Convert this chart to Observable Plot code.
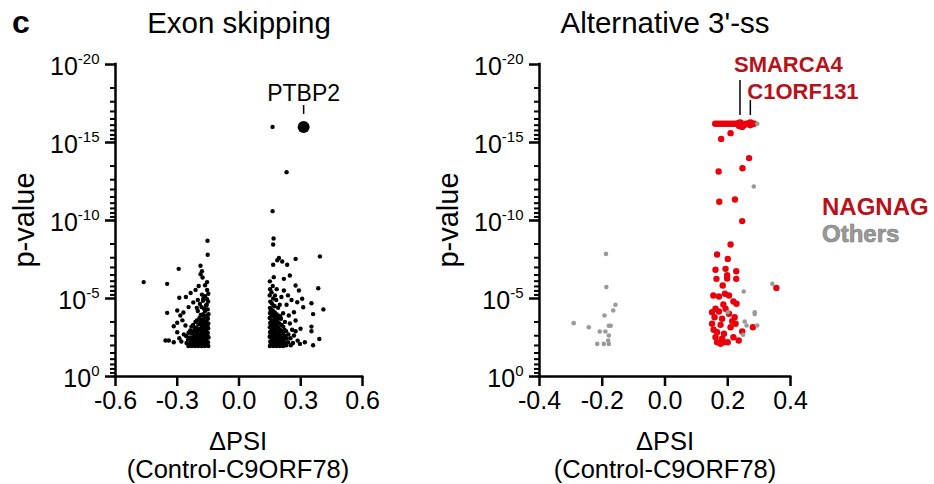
<!DOCTYPE html>
<html><head><meta charset="utf-8">
<script src="https://cdn.jsdelivr.net/npm/d3@7"></script>
<script src="https://cdn.jsdelivr.net/npm/@observablehq/plot@0.6"></script>
<style>
body{margin:0;background:#fff;}
#wrap{position:relative;width:934px;height:484px;}
#wrap svg{position:absolute;top:0;left:0;overflow:visible;}
</style></head><body><div id="wrap"></div>
<script>
// ---------- data ----------
const yMajor = [0, 5, 10, 15, 20];
const yExp = ["0", "-5", "-10", "-15", "-20"];
const esTicks = [-0.6, -0.3, 0, 0.3, 0.6];
const a3Ticks = [-0.4, -0.2, 0, 0.2, 0.4];

// Exon skipping: [dPSI, -log10 p]
const esPts = [
[-0.463,6.05],[-0.349,5.94],[-0.293,6.90],[-0.153,8.70],[-0.152,7.80],[-0.187,7.10],[-0.180,6.75],[-0.187,6.55],[-0.177,6.35],[-0.155,6.05],[-0.165,5.85],[-0.196,5.80],[-0.155,5.55],[-0.211,5.55],[-0.235,5.35],[-0.258,5.10],[-0.290,5.05],[-0.180,5.25],[-0.165,5.15],[-0.155,4.95],[-0.175,4.85],[-0.200,4.90],[-0.222,4.75],[-0.190,4.65],[-0.160,4.55],[-0.245,4.45],[-0.205,4.40],[-0.170,4.35],[-0.349,4.08],[-0.300,4.23],[-0.285,3.91],[-0.270,4.10],[-0.317,3.22],[-0.300,2.84],[-0.357,2.31],[-0.341,2.31],[-0.317,2.20],[-0.280,2.24],[-0.260,3.27],[-0.268,2.70],[-0.290,2.45],[-0.275,3.60],[-0.300,3.45],
[-0.149,1.95],[-0.151,2.20],[-0.148,2.50],[-0.152,2.80],[-0.150,3.10],[-0.149,3.40],[-0.151,3.70],[-0.148,4.00],[-0.152,4.30],[-0.150,4.80],[-0.149,5.30],
[-0.158,2.05],[-0.160,2.35],[-0.157,2.65],[-0.159,2.95],[-0.156,3.25],[-0.160,3.55],[-0.158,3.90],[-0.157,4.60],
[-0.166,1.95],[-0.168,2.25],[-0.165,2.55],[-0.167,2.85],[-0.164,3.15],[-0.168,3.50],[-0.166,3.80],[-0.165,4.20],
[-0.174,2.10],[-0.176,2.40],[-0.173,2.70],[-0.175,3.00],[-0.172,3.30],[-0.176,3.65],[-0.174,4.00],[-0.173,5.00],
[-0.182,1.95],[-0.184,2.25],[-0.181,2.55],[-0.183,2.90],[-0.180,3.20],[-0.184,3.55],[-0.182,4.45],
[-0.190,2.10],[-0.192,2.40],[-0.189,2.70],[-0.191,3.05],[-0.188,3.40],[-0.192,3.75],
[-0.198,1.95],[-0.200,2.25],[-0.197,2.60],[-0.199,2.95],[-0.196,3.35],[-0.200,4.20],
[-0.206,2.10],[-0.208,2.45],[-0.205,2.80],[-0.207,3.15],[-0.204,3.60],
[-0.214,1.95],[-0.216,2.30],[-0.213,2.65],[-0.215,3.05],[-0.212,3.50],
[-0.222,2.15],[-0.224,2.50],[-0.221,2.90],[-0.223,3.30],
[-0.230,1.95],[-0.232,2.30],[-0.229,2.75],[-0.231,3.20],
[-0.238,2.10],[-0.240,2.50],[-0.237,2.95],
[-0.246,1.95],[-0.248,2.35],[-0.245,2.80],
[-0.255,2.15],[-0.257,2.60],
[-0.154,2.05],[-0.162,2.10],[-0.170,2.00],[-0.178,2.05],[-0.186,2.00],[-0.194,2.05],[-0.154,2.65],[-0.162,2.80],[-0.170,2.60],[-0.178,2.85],[-0.186,2.70],[-0.154,3.25],[-0.162,3.40],[-0.170,3.20],[-0.178,3.45],[-0.154,3.85],[-0.170,3.90],[-0.186,3.95],[-0.202,2.05],[-0.210,2.00],[-0.218,2.05],
[0.163,16.0],[0.231,13.1],[0.163,10.6],[0.168,8.85],[0.166,8.46],[0.194,7.60],[0.186,7.45],[0.166,7.16],[0.210,7.37],[0.234,7.16],[0.275,7.54],[0.393,7.70],[0.385,5.66],[0.410,4.30],[0.352,4.70],[0.360,4.00],[0.352,3.20],[0.352,2.90],[0.390,2.40],[0.360,2.00],[0.169,6.37],[0.218,6.26],[0.247,6.47],[0.275,5.83],[0.218,5.51],[0.291,5.51],[0.307,4.98],[0.283,4.76],[0.312,4.44],[0.267,4.12],[0.275,3.59],[0.299,3.06],[0.296,2.09],[0.267,2.63],[0.247,3.40],[0.242,3.91],[0.255,4.90],[0.238,5.20],[0.285,2.30],[0.275,2.90],[0.258,3.00],[0.320,2.20],
[0.150,1.95],[0.152,2.25],[0.149,2.55],[0.151,2.85],[0.150,3.15],[0.152,3.45],[0.149,3.75],[0.151,4.05],[0.150,4.40],[0.152,4.80],[0.149,5.20],[0.151,5.60],[0.150,6.10],
[0.158,2.10],[0.160,2.40],[0.157,2.70],[0.159,3.00],[0.156,3.30],[0.160,3.60],[0.158,3.95],[0.157,4.30],[0.159,4.70],[0.158,5.40],
[0.166,1.95],[0.168,2.25],[0.165,2.55],[0.167,2.85],[0.164,3.20],[0.168,3.50],[0.166,3.85],[0.165,4.20],[0.167,4.55],[0.166,5.00],[0.164,5.80],
[0.174,2.10],[0.176,2.40],[0.173,2.70],[0.175,3.05],[0.172,3.35],[0.176,3.70],[0.174,4.10],[0.173,4.50],[0.175,5.20],
[0.182,1.95],[0.184,2.25],[0.181,2.60],[0.183,2.90],[0.180,3.25],[0.184,3.60],[0.182,4.00],[0.181,4.90],[0.183,5.60],
[0.190,2.10],[0.192,2.45],[0.189,2.80],[0.191,3.15],[0.188,3.50],[0.192,3.90],[0.190,4.40],
[0.198,1.95],[0.200,2.30],[0.197,2.65],[0.199,3.00],[0.196,3.40],[0.200,3.85],[0.198,4.60],
[0.206,2.15],[0.208,2.50],[0.205,2.90],[0.207,3.30],[0.204,3.70],[0.206,5.10],
[0.214,1.95],[0.216,2.35],[0.213,2.75],[0.215,3.20],[0.214,4.05],
[0.222,2.20],[0.224,2.60],[0.221,3.00],[0.223,3.50],
[0.230,2.00],[0.232,2.45],[0.229,2.90],[0.231,4.60],
[0.238,2.20],[0.240,2.70],[0.252,2.00],[0.250,2.45],[0.262,2.15],
[0.154,2.05],[0.162,2.10],[0.170,2.00],[0.178,2.05],[0.186,2.00],[0.194,2.05],[0.154,2.70],[0.162,2.65],[0.170,2.75],[0.178,2.60],[0.154,3.35],[0.162,3.20],[0.170,3.45],[0.178,3.30],[0.154,4.20],[0.170,3.90],[0.186,3.75],[0.202,2.00],[0.210,2.05],[0.218,2.00]
];
const esHighlightName = ["PTBP2"];
const esHighlightX = [0.314];
const esHighlightY = [16.0];

// Alternative 3'-ss: NAGNAG (red) and Others (gray)
const nagPts = [
[0.160,16.2],[0.168,16.2],[0.176,16.2],[0.184,16.2],[0.192,16.2],[0.200,16.2],[0.208,16.2],[0.216,16.2],[0.224,16.2],[0.230,16.2],[0.236,16.05],[0.246,16.0],[0.252,16.1],[0.258,16.2],[0.266,16.2],[0.284,16.2],
[0.179,15.23],[0.209,15.6],[0.268,14.0],[0.247,13.35],[0.171,13.14],[0.173,11.2],[0.223,11.35],[0.246,9.96],[0.209,8.46],[0.166,7.82],[0.200,7.54],[0.161,6.84],[0.193,6.9],[0.227,6.75],[0.164,6.26],[0.198,6.5],[0.198,6.28],[0.227,6.26],[0.184,5.83],[0.355,5.68],[0.154,5.19],[0.172,5.13],[0.191,5.3],[0.204,5.19],[0.218,4.81],[0.228,4.66],[0.186,4.62],[0.161,4.34],[0.150,4.12],[0.172,4.17],[0.193,4.34],[0.204,4.02],[0.158,3.8],[0.182,3.7],[0.222,3.8],[0.150,3.38],[0.177,3.31],[0.209,3.16],[0.225,3.38],[0.280,3.16],[0.246,2.88],[0.166,2.84],[0.188,2.74],[0.161,2.52],[0.182,2.42],[0.218,2.52],[0.235,2.31],[0.166,2.2],[0.188,2.2],[0.200,2.2],[0.177,2.1],[0.155,3.0],[0.214,3.55]
];
const othPts = [
[0.294,16.2],[0.283,12.18],[0.251,5.45],[0.342,5.94],[0.286,4.12],[0.286,4.0],[0.254,3.53],[0.260,3.27],[0.294,3.27],[0.249,2.67],[0.200,4.12],
[-0.188,7.86],[-0.187,5.73],[-0.158,4.6],[-0.165,4.23],[-0.193,3.91],[-0.291,3.42],[-0.243,3.16],[-0.208,2.88],[-0.190,2.88],[-0.179,3.25],[-0.173,3.25],[-0.179,2.63],[-0.181,2.31],[-0.216,2.09],[-0.195,2.09],[-0.179,2.09]
];
const a3HighlightName = ["SMARCA4", "C1ORF131"];
const a3HighlightX = [0.239, 0.272];
const a3HighlightY = [16.2, 16.2];

// ---------- helpers ----------
const FONT = '"Liberation Sans", Arial, Helvetica, sans-serif';
const minorTicks = [];
for (const top of [5, 10, 15, 20]) for (let k = 2; k <= 9; k++) minorTicks.push(top - 5 * Math.log10(k));

const W = 934, H = 484, MT = 64, MB = 108;

function panel(xDomain, xTicks, marginLeft, marginRight, marks) {
  const x0 = xDomain[0];
  const kx = (W - marginLeft - marginRight) / (xDomain[1] - xDomain[0]); // px per x unit
  const ky = (H - MT - MB) / 20;                                          // px per y unit
  return Plot.plot({
    width: W, height: H,
    marginLeft, marginRight, marginTop: MT, marginBottom: MB,
    x: {domain: xDomain},
    y: {domain: [0, 20]},
    style: {fontFamily: FONT, fontSize: "25px", color: "#000", background: "transparent", overflow: "visible"},
    marks: [
      // tick marks drawn as short rules outside the frame
      Plot.ruleY(minorTicks, {y: d => d, x1: x0 - 5 / kx, x2: x0, stroke: "#000", strokeWidth: 2}),
      Plot.ruleY(yMajor, {y: d => d, x1: x0 - 10 / kx, x2: x0, stroke: "#000", strokeWidth: 2.5}),
      Plot.ruleX(xTicks, {x: d => d, y1: 0, y2: -10 / ky, stroke: "#000", strokeWidth: 2.5}),
      Plot.axisY(yMajor, {tickSize: 0, tickPadding: 16, fontSize: 25, dy: 2.5,
        tickFormat: d => "10^" + yExp[yMajor.indexOf(d)], label: null}),
      Plot.axisX(xTicks, {tickSize: 0, tickPadding: 15, fontSize: 25,
        tickFormat: d => d.toFixed(1), label: null}),
      Plot.ruleX([x0], {y1: 0, y2: 20, strokeWidth: 2.5, strokeLinecap: "square"}),
      Plot.ruleY([0], {x1: x0, x2: xDomain[1], strokeWidth: 2.5, strokeLinecap: "square"}),
      ...marks
    ]
  });
}

function superscripts(svg) {
  const ns = "http://www.w3.org/2000/svg";
  svg.querySelectorAll('g[aria-label="y-axis tick label"] text').forEach(t => {
    const s = t.textContent;
    if (!s.includes("^")) return;
    const [b, e] = s.split("^");
    t.textContent = "";
    const t1 = document.createElementNS(ns, "tspan"); t1.textContent = b;
    const t2 = document.createElementNS(ns, "tspan"); t2.textContent = e;
    t2.setAttribute("dy", "-11"); t2.setAttribute("font-size", "15");
    t.append(t1, t2);
  });
}

const RED = "#e8000b", DARKRED = "#b5121b", GRAY = "#9a9a9a";

// ---------- left panel ----------
const es = panel([-0.6, 0.6], esTicks, 115, W - 362, [
  Plot.dot(esPts, {x: d => d[0], y: d => d[1], r: 2.2, fill: "#000"}),
  Plot.dot(esHighlightX, {x: d => d, y: (d, i) => esHighlightY[i], r: 6, fill: "#000"}),
  Plot.ruleX(esHighlightX, {x: d => d, y1: (d, i) => esHighlightY[i] + 0.8, y2: (d, i) => esHighlightY[i] + 1.37, strokeWidth: 1.5}),
  Plot.text(esHighlightX, {x: d => d, y: (d, i) => esHighlightY[i], text: (d, i) => esHighlightName[i],
    dy: -26, lineAnchor: "bottom", fontSize: 23, fill: "#000"})
]);

// ---------- right panel ----------
const a3 = panel([-0.4, 0.4], a3Ticks, 539, W - 790, [
  Plot.dot(nagPts, {x: d => d[0], y: d => d[1], r: 3.2, fill: RED}),
  Plot.dot(othPts, {x: d => d[0], y: d => d[1], r: 2.3, fill: GRAY}),
  Plot.dot(a3HighlightX, {x: d => d, y: (d, i) => a3HighlightY[i], r: 4.6, fill: RED}),
  Plot.ruleX(a3HighlightX, {x: d => d, y1: (d, i) => a3HighlightY[i] + 0.53,
    y2: (d, i) => a3HighlightY[i] + (i === 0 ? 2.77 : 1.49), strokeWidth: 1.5}),
  Plot.text([0], {x: a3HighlightX[0], y: a3HighlightY[0], text: () => a3HighlightName[0],
    dx: -6, dy: -52, textAnchor: "start", lineAnchor: "bottom", fontSize: 22, fontWeight: "bold", fill: DARKRED}),
  Plot.text([1], {x: a3HighlightX[1], y: a3HighlightY[1], text: () => a3HighlightName[1],
    dx: -3, dy: -25, textAnchor: "start", lineAnchor: "bottom", fontSize: 22, fontWeight: "bold", fill: DARKRED})
]);

const wrap = document.getElementById("wrap");
wrap.append(es, a3);
superscripts(es); superscripts(a3);

// ---------- titles, axis labels, legend ----------
const ov = d3.select(a3);
function label(x, y, str, opts = {}) {
  const t = ov.append("text").attr("x", x).attr("y", y).text(str)
    .attr("font-family", FONT).attr("font-size", opts.size || 25)
    .attr("text-anchor", opts.anchor || "middle").attr("fill", opts.fill || "#000");
  if (opts.bold) t.attr("font-weight", "bold");
  if (opts.rotate) t.attr("transform", `rotate(-90 ${x} ${y})`);
  if (opts.stroke) t.attr("stroke", opts.stroke).attr("stroke-width", opts.sw || 0.7);
  return t;
}
label(12, 33, "c", {size: 32, bold: true, anchor: "start"});
label(239, 33, "Exon skipping", {size: 29.5});
label(665, 33, "Alternative 3'-ss", {size: 29.5});
label(34, 220, "p-value", {size: 29, rotate: true});
label(458, 220, "p-value", {size: 29, rotate: true});
label(238, 450, "ΔPSI", {size: 25.5});
label(238, 478, "(Control-C9ORF78)", {size: 25.5});
label(665, 450, "ΔPSI", {size: 25.5});
label(665, 478, "(Control-C9ORF78)", {size: 25.5});
label(822, 215, "NAGNAG", {size: 24, bold: true, anchor: "start", fill: DARKRED});
label(822, 242, "Others", {size: 24, bold: true, anchor: "start", fill: GRAY, stroke: "#7a7a7a", sw: 0.6});
</script>
</body></html>
